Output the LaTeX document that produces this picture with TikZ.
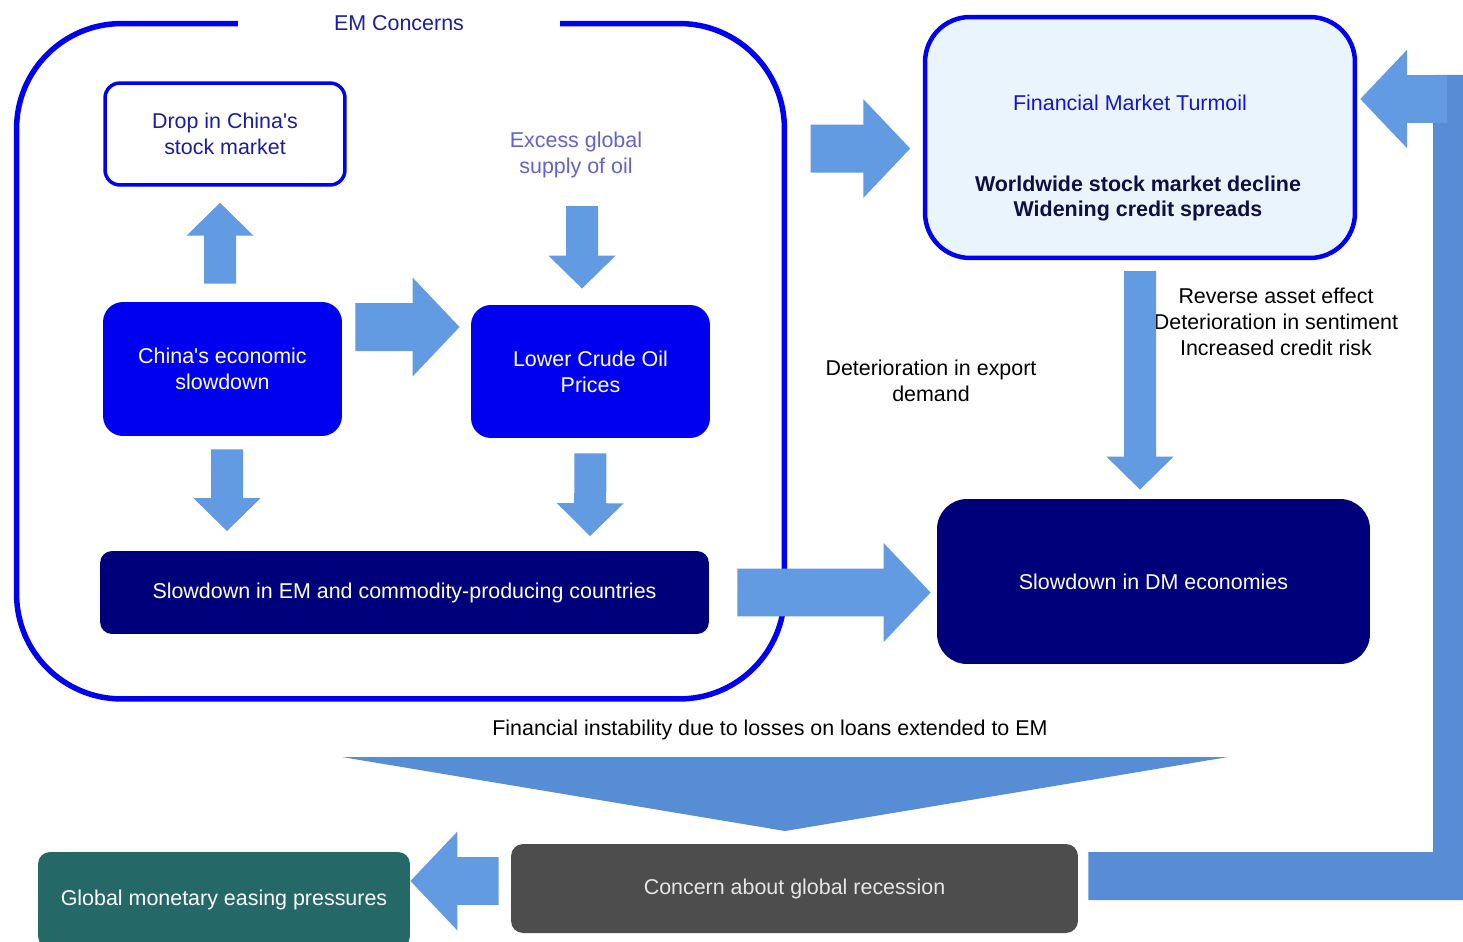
\documentclass[tikz,border=0pt]{standalone}
\usepackage{fontspec}
\setmainfont{Liberation Sans}
\usetikzlibrary{arrows.meta}
\newcommand{\apos}{\textquotesingle{}}
\definecolor{EMblue}{RGB}{0,0,245}
\definecolor{BoxBlue}{RGB}{0,0,240}
\definecolor{DMnavy}{RGB}{0,0,122}
\definecolor{ArrowC}{RGB}{98,155,225}
\definecolor{BandC}{RGB}{86,141,213}
\definecolor{TurmoilFill}{RGB}{233,244,253}
\definecolor{RecGray}{RGB}{77,77,77}
\definecolor{EaseTeal}{RGB}{36,104,104}
\definecolor{LabelBlue}{RGB}{28,28,165}
\definecolor{TitleBlue}{RGB}{20,20,215}
\definecolor{OilText}{RGB}{98,98,210}
\definecolor{BodyNavy}{RGB}{15,15,70}
\tikzset{
  base/.style={font=\fontsize{12.2}{14.7}\selectfont,align=center,inner sep=0pt},
  boldtext/.style={base,font=\fontsize{12.2}{14.7}\selectfont\bfseries},
  note/.style={base,text=black},
  emframe/.style={draw=EMblue,line width=0.11cm,rounded corners=2.1cm},
  outline/.style={base,draw=EMblue,line width=0.07cm,fill=white,
                  rounded corners=0.3cm,text=LabelBlue},
  bluebox/.style={base,fill=BoxBlue,text=white,rounded corners=0.4cm},
  navybox/.style={base,fill=DMnavy,text=white},
  turmoil/.style={draw=EMblue,line width=0.09cm,fill=TurmoilFill,rounded corners=0.9cm},
  arr/.style={ArrowC,line width=0.64cm,-{Triangle[length=0.66cm,width=1.3cm]}},
  bigarr/.style={ArrowC,line width=0.96cm,-{Triangle[length=0.94cm,width=1.92cm]}},
}
\begin{document}
\begin{tikzpicture}[x=0.02cm,y=-0.02cm]
  \path[use as bounding box,fill=white] (0,0) rectangle (1463,942);

  % EM concerns frame
  \node[emframe,minimum width=15.36cm,minimum height=13.51cm] (em) at (400.5,361.25) {};
  \node[base,fill=white,text=LabelBlue,minimum width=6.44cm,minimum height=0.5cm]
    (emlabel) at (399,23) {EM Concerns};

  \node[outline,minimum width=4.8cm,minimum height=2.04cm] (drop) at (225,134)
    {Drop in China\apos s\\stock market};
  \node[note,text=OilText] (excess) at (576,155) {Excess global\\supply of oil};
  \node[bluebox,minimum width=4.78cm,minimum height=2.68cm] (cslow) at (222.5,369)
    {China\apos s economic\\slowdown};
  \node[bluebox,minimum width=4.78cm,minimum height=2.66cm] (oil) at (590.5,371.5)
    {Lower Crude Oil\\Prices};
  \node[navybox,rounded corners=0.24cm,minimum width=12.18cm,minimum height=1.66cm]
    (emslow) at (404.5,592.5) {Slowdown in EM and commodity-producing countries};

  % financial markets
  \node[turmoil,minimum width=8.6cm,minimum height=4.82cm] (fmt) at (1140,137.5) {};
  \node[base,text=TitleBlue] (fmttitle) at (1130,103) {Financial Market Turmoil};
  \node[boldtext,text=BodyNavy] (fmtbody) at (1138,198.5)
    {Worldwide stock market decline\\Widening credit spreads};

  \node[navybox,rounded corners=0.6cm,minimum width=8.66cm,minimum height=3.3cm]
    (dmslow) at (1153.5,581.5) {Slowdown in DM economies};
  \node[note] (channels) at (1276,322)
    {Reverse asset effect\\Deterioration in sentiment\\Increased credit risk};
  \node[note] (export) at (931,380.5) {Deterioration in export\\demand};
  \node[note] (instab) at (770,730)
    {Financial instability due to losses on loans extended to EM};

  \node[base,fill=RecGray,text=white!90!black,rounded corners=0.24cm,
        minimum width=11.34cm,minimum height=1.78cm] (recess) at (794.5,888.5)
    {Concern about global recession};
  \node[base,fill=EaseTeal,text=white,rounded corners=0.24cm,
        minimum width=7.44cm,minimum height=1.92cm] (ease) at (224,900)
    {Global monetary easing pressures};

  % arrows inside the frame
  \draw[arr,shorten <=0.36cm,shorten >=0.32cm]
    ([xshift=-0.05cm]cslow.north) -- ([xshift=-0.1cm]drop.south);
  \draw[bigarr,shorten <=0.26cm,shorten >=0.22cm]
    ([yshift=0.84cm]cslow.east) -- ([yshift=0.89cm]oil.west);
  \draw[arr,shorten <=0.56cm,shorten >=0.32cm]
    ([xshift=0.12cm]excess.south) -- ([xshift=-0.17cm]oil.north);
  \draw[arr,shorten <=0.26cm,shorten >=0.39cm]
    ([xshift=0.09cm]cslow.south) -- ([xshift=-3.55cm]emslow.north);
  \draw[arr,shorten <=0.3cm,shorten >=0.29cm]
    (oil.south) -- ([xshift=3.71cm]emslow.north);

  % arrows between blocks
  \draw[bigarr,shorten <=0.56cm,shorten >=0.12cm]
    (emslow.east) -- ([yshift=-0.22cm]dmslow.west);
  \draw[bigarr,shorten <=0.47cm,shorten >=0.25cm]
    ([yshift=4.255cm]em.east) -- ([yshift=-0.22cm]fmt.west);
  \draw[arr,shorten <=0.22cm,shorten >=0.18cm]
    (fmt.south) -- ([xshift=-0.27cm]dmslow.north);
  \fill[BandC] (342,757) -- (1228,757) -- (785,831) -- cycle;
  \draw[bigarr,shorten <=0.24cm]
    ([yshift=0.15cm]recess.west) -- ([yshift=0.38cm]ease.east);

  % feedback loop
  \coordinate (looptop) at (1457,75);
  \coordinate (loopend) at (1447,99);
  \draw[BandC,line width=0.96cm,shorten <=0.2cm]
    ([yshift=0.25cm]recess.east) -- (1457,876) -- (looptop);
  \draw[bigarr,shorten >=0.06cm] (loopend) -- ([yshift=0.77cm]fmt.east);
\end{tikzpicture}
\end{document}
